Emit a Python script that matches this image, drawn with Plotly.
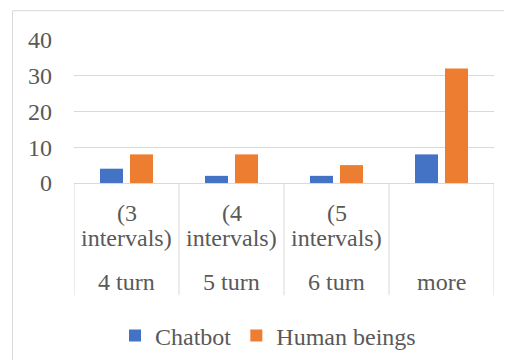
import plotly.graph_objects as go

outer_labels = ["4 turn", "5 turn", "6 turn", "more"]
inner_labels = ["(3 intervals)", "(4 intervals)", "(5 intervals)", ""]
chatbot = [4, 2, 2, 8]
human = [8, 8, 5, 32]
y_ticks = [0, 10, 20, 30, 40]

FONT = "Liberation Serif, Times New Roman, serif"
TXT = "#595959"
GRID = "#d9d9d9"

OFF = 8  # page body margin
W, H = 512, 360
PL, PR, PT, PB = 74, 494, 40, 184  # plot area in window px
pw, ph = PR - PL, PB - PT
L, T = PL - OFF, PT - OFF
R = W - L - pw
B = H - T - ph


def py(p):
    return (PB - p) / ph


def px(p):
    return (p - PL) / pw


fig = go.Figure()
fig.add_trace(go.Bar(x=outer_labels, y=chatbot, name="Chatbot",
                     marker=dict(color="#4472C4", line=dict(width=0))))
fig.add_trace(go.Bar(x=outer_labels, y=human, name="Human beings",
                     marker=dict(color="#ED7D31", line=dict(width=0))))

shapes = []
shapes.append(dict(type="rect", xref="paper", yref="paper",
                   x0=px(12.5), x1=px(530), y0=py(380), y1=py(10.5),
                   line=dict(color=GRID, width=1), layer="below"))
for i in range(len(outer_labels) + 1):
    shapes.append(dict(type="line", xref="x", yref="paper",
                       x0=i - 0.5, x1=i - 0.5, y0=0, y1=py(297),
                       line=dict(color=GRID, width=1)))

annotations = []
for i, (o, inn) in enumerate(zip(outer_labels, inner_labels)):
    parts = inn.split(" ") if inn else []
    ys = [214, 239]
    for part, yy in zip(parts, ys):
        annotations.append(dict(x=o, xref="x", y=py(yy), yref="paper",
                                text=part, showarrow=False,
                                xanchor="center", yanchor="middle",
                                font=dict(family=FONT, size=24, color=TXT)))
    annotations.append(dict(x=o, xref="x", y=py(284), yref="paper",
                            text=o, showarrow=False,
                            xanchor="center", yanchor="middle",
                            font=dict(family=FONT, size=24, color=TXT)))

fig.update_layout(
    width=W, height=H,
    margin=dict(l=L, r=R, t=T, b=B),
    paper_bgcolor="white", plot_bgcolor="white",
    barmode="group", bargap=0.4286, bargroupgap=0.233,
    font=dict(family=FONT, size=24, color=TXT),
    xaxis=dict(type="category", showticklabels=False, showgrid=False,
               showline=True, linecolor=GRID, linewidth=1,
               zeroline=False, ticks="", range=[-0.5, 3.5]),
    yaxis=dict(range=[0, 40], tickvals=y_ticks, showgrid=True,
               gridcolor=GRID, gridwidth=1, zeroline=False,
               showline=False, ticks="", ticklabelstandoff=21,
               tickfont=dict(family=FONT, size=24, color=TXT)),
    showlegend=True,
    legend=dict(orientation="h", x=px(268), xanchor="center",
                y=py(336), yanchor="middle",
                font=dict(family=FONT, size=24, color=TXT),
                bgcolor="rgba(0,0,0,0)", itemclick=False),
    shapes=shapes,
    annotations=annotations,
)

fig.write_html("out.html")
